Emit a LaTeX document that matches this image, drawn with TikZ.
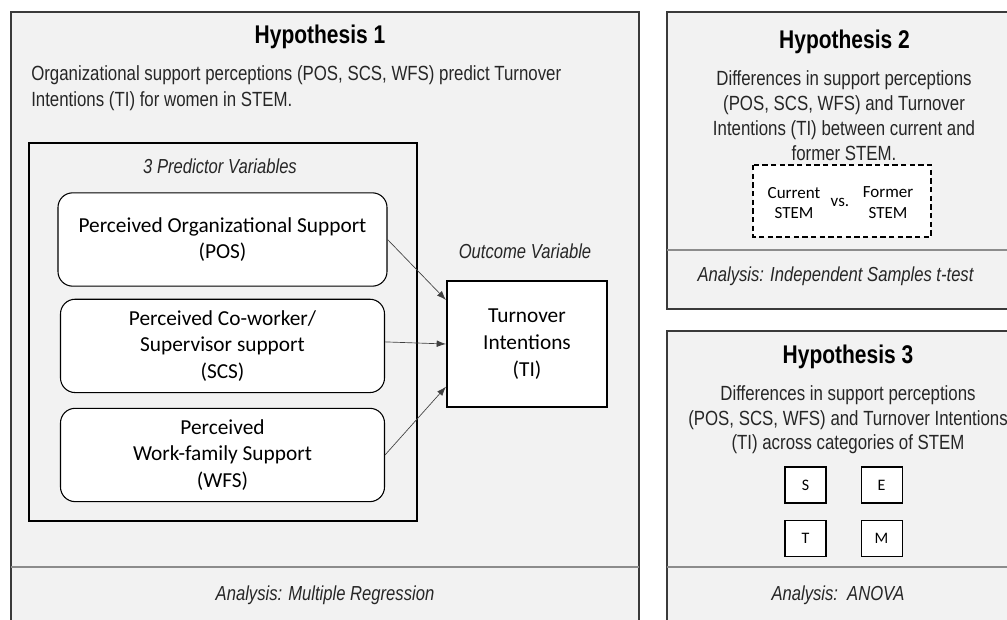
\documentclass[tikz,border=0pt]{standalone}
\usepackage{fontspec}
\setmainfont{Liberation Sans}[FakeStretch=0.82]
\newfontfamily\boxfont{Carlito}
\usetikzlibrary{arrows.meta, positioning, calc}
\definecolor{PanelFill}{HTML}{F2F2F2}
\definecolor{PanelEdge}{HTML}{3A3A3A}
\definecolor{RuleGray}{HTML}{8C8C8C}
\definecolor{InkGray}{HTML}{262626}
\newcommand{\boxsize}{\boxfont\fontsize{16}{20}\selectfont}

\tikzset{
  panel/.style={draw=PanelEdge, fill=PanelFill, line width=0.9pt},
  divider/.style={draw=RuleGray, line width=0.8pt},
  heading/.style={font=\fontsize{19.2}{22}\selectfont\bfseries, inner sep=0},
  bodytext/.style={font=\fontsize{15.4}{18.75}\selectfont, text=InkGray,
                   inner sep=0, align=center},
  italnote/.style={font=\fontsize{15.2}{17}\selectfont\itshape, text=InkGray, inner sep=0},
  predbox/.style={draw=black, fill=white, line width=0.8pt, rounded corners=11pt,
                  minimum width=243pt, minimum height=70pt, align=center, font=\boxsize},
  outbox/.style={draw=black, fill=white, line width=1.5pt, minimum width=120pt,
                 minimum height=94.5pt, align=center, font=\boxsize},
  groupname/.style={align=center, inner sep=0, font=\boxfont\fontsize{12.75}{15.5}\selectfont},
  catbox/.style={draw=black, fill=white, line width=0.8pt, minimum width=30.75pt,
                 minimum height=27pt, inner sep=0, font=\boxfont\fontsize{12}{14}\selectfont},
  link/.style={draw=black!75, line width=0.5pt, -{Latex[length=7pt,width=5pt]}}
}

\begin{document}
\begin{tikzpicture}[x=0.75pt, y=-0.75pt]
\useasboundingbox (0,0) rectangle (1007,620);

% panels
\draw[panel] (11,12) rectangle (639,632);
\draw[divider] (11,567) -- (639,567);
\draw[panel] (667,12) rectangle (1020,309);
\draw[divider] (667,250) -- (1020,250);
\draw[panel] (667,331) rectangle (1020,632);
\draw[divider] (667,567) -- (1020,567);

% Hypothesis 1
\node[heading] (h1title) at (320,37) {Hypothesis 1};
\node[bodytext, align=left, anchor=west, font=\fontsize{15.4}{19.5}\selectfont] (h1text) at (31,88)
  {Organizational support perceptions (POS, SCS, WFS) predict Turnover\\
   Intentions (TI) for women in STEM.};
\draw[line width=1.5pt] (29,143) rectangle (417,521);
\node[italnote] (predlabel) at (220,166) {3 Predictor Variables};

\node[predbox, minimum width=246.75pt] (pos) at (222.5,239.5)
  {Perceived Organizational Support\\(POS)};
\node[predbox, below=9pt of pos] (scs)
  {Perceived Co-worker/\\Supervisor support\\(SCS)};
\node[predbox, below=11pt of scs] (wfs)
  {Perceived\\Work-family Support\\(WFS)};

\node[italnote] (outlabel) at (525,251) {Outcome Variable};
\node[outbox] (ti) at (527,344) {Turnover\\Intentions\\(TI)};

\draw[link] (pos.east) -- ([yshift=33pt]ti.west);
\draw[link] ([yshift=3pt]scs.east) -- (ti.west);
\draw[link] (wfs.east) -- ([yshift=-32pt]ti.west);

\node[italnote] (h1method) at (325,595) {Analysis: Multiple Regression};

% Hypothesis 2
\node[heading] (h2title) at (844.5,42) {Hypothesis 2};
\node[bodytext] (h2text) at (844,116)
  {Differences in support perceptions\\(POS, SCS, WFS) and Turnover\\
   Intentions (TI) between current and\\former STEM.};
\draw[dashed, dash pattern=on 4pt off 2.5pt, fill=white, line width=0.8pt]
  (753,165) rectangle (931,237);
\node[groupname] (current) at (794,203) {Current\\STEM};
\node[groupname] (vs) at (840,202) {vs.};
\node[groupname] (former) at (888,202.5) {Former\\STEM};
\node[italnote] (h2method) at (835.5,276) {Analysis: Independent Samples t-test};

% Hypothesis 3
\node[heading] (h3title) at (848,357) {Hypothesis 3};
\node[bodytext, font=\fontsize{15.4}{18.4}\selectfont] (h3text) at (848,420)
  {Differences in support perceptions\\(POS, SCS, WFS) and Turnover Intentions\\
   (TI) across categories of STEM};
\node[catbox] (catS) at (805.5,485) {S};
\node[catbox, right=25.5pt of catS] (catE) {E};
\node[catbox, below=12pt of catS] (catT) {T};
\node[catbox, below=12pt of catE] (catM) {M};
\node[italnote] (h3method) at (838,595) {Analysis:\ \ ANOVA};
\end{tikzpicture}
\end{document}
